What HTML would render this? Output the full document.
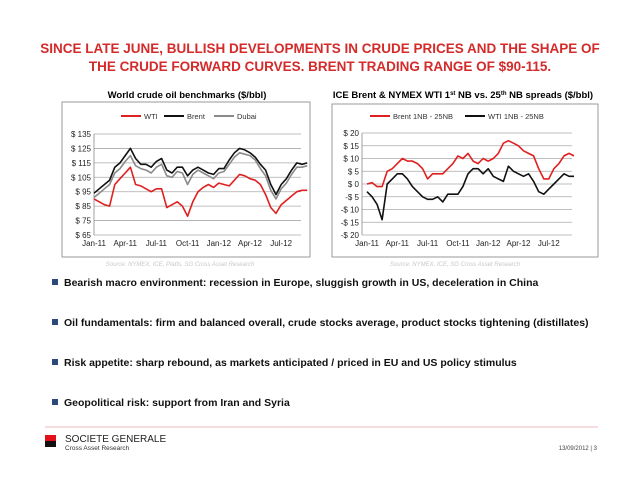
<!DOCTYPE html>
<html><head><meta charset="utf-8"><style>
body{margin:0;width:640px;height:495px;background:#fff;overflow:hidden;font-family:"Liberation Sans",sans-serif}
svg{position:absolute;left:0;top:0}
</style></head><body>
<svg width="640" height="495">
<text x="320" y="53" text-anchor="middle" font-size="13.5" font-weight="bold" fill="#d42a2a">SINCE LATE JUNE, BULLISH DEVELOPMENTS IN CRUDE PRICES AND THE SHAPE OF</text>
<text x="320" y="71" text-anchor="middle" font-size="13.5" font-weight="bold" fill="#d42a2a">THE CRUDE FORWARD CURVES.  BRENT TRADING RANGE OF $90-115.</text>

<text x="187" y="98" text-anchor="middle" font-size="9.5" font-weight="bold">World crude oil benchmarks ($/bbl)</text>
<rect x="62" y="102" width="248" height="155" fill="#fff" stroke="#999"/>
<g id="left"></g>
<text x="180" y="266" text-anchor="middle" font-size="6" font-style="italic" fill="#c8c8c8">Source: NYMEX, ICE, Platts, SG Cross Asset Research</text>

<text x="463" y="98" text-anchor="middle" font-size="9.5" font-weight="bold">ICE Brent &amp; NYMEX WTI 1<tspan font-size="6" dy="-3">st</tspan><tspan dy="3"> NB vs. 25</tspan><tspan font-size="6" dy="-3">th</tspan><tspan dy="3"> NB spreads ($/bbl)</tspan></text>
<rect x="332" y="104" width="266" height="153" fill="#fff" stroke="#999"/>
<g id="right"></g>
<text x="455" y="266" text-anchor="middle" font-size="6" font-style="italic" fill="#c8c8c8">Source: NYMEX, ICE, SG Cross Asset Research</text>

<g font-size="10.5" font-weight="bold" fill="#111">
<rect x="52" y="279" width="6" height="6" fill="#2b4a7a"/>
<text x="64" y="286">Bearish macro environment:  recession in Europe, sluggish growth in US, deceleration in China</text>
<rect x="52" y="319" width="6" height="6" fill="#2b4a7a"/>
<text x="64" y="326">Oil fundamentals:  firm and balanced overall, crude stocks average, product stocks tightening (distillates)</text>
<rect x="52" y="359" width="6" height="6" fill="#2b4a7a"/>
<text x="64" y="366">Risk appetite:  sharp rebound, as markets anticipated / priced in EU and US policy stimulus</text>
<rect x="52" y="399" width="6" height="6" fill="#2b4a7a"/>
<text x="64" y="406">Geopolitical risk:  support from Iran and Syria</text>
</g>

<line x1="45" y1="427" x2="598" y2="427" stroke="#e8a0a0" stroke-width="0.8"/>
<rect x="45" y="435" width="11" height="6" fill="#e3101a"/>
<rect x="45" y="441" width="11" height="6" fill="#111"/>
<text x="65" y="442" font-size="10" fill="#222">SOCIETE GENERALE</text>
<text x="65" y="450" font-size="6.5" fill="#333">Cross Asset Research</text>
<text x="597" y="450" text-anchor="end" font-size="6" fill="#444">13/09/2012  |   3</text>
</svg>
<script>
const NS='http://www.w3.org/2000/svg';
const monthLabels=['Jan-11','Apr-11','Jul-11','Oct-11','Jan-12','Apr-12','Jul-12'];
const monthIdx=[0,3,6,9,12,15,18];
const leftTicks=[65,75,85,95,105,115,125,135];
const rightTicks=[-20,-15,-10,-5,0,5,10,15,20];
// semimonthly values Jan-11 .. Sep-12
const wti=[90,88,86,85,100,104,108,112,100,99,97,95,97,97,84,86,88,85,78,88,95,98,100,98,101,100,99,103,107,106,104,103,100,93,84,80,86,89,92,95,96,96];
const brent=[94,97,100,103,112,115,120,125,118,114,114,112,116,118,110,108,112,112,106,110,112,110,108,107,111,111,117,122,125,124,122,119,114,110,100,93,100,104,110,115,114,115];
const dubai=[91,94,97,100,108,111,116,120,113,111,110,108,112,114,106,105,109,108,100,107,110,108,106,104,108,109,114,119,122,121,120,117,111,106,96,90,97,101,107,112,112,113];
const brentSpread=[0,0.5,-1,-1,5,6,8,10,9,9,8,6,2,4,4,4,6,8,11,10,12,9,8,10,9,10,12,16,17,16,15,13,12,11,6,2,2,6,8,11,12,11];
const wtiSpread=[-3,-5,-8,-14,0,2,4,4,2,-1,-3,-5,-6,-6,-5,-7,-4,-4,-4,-1,4,6,6,4,6,3,2,1,7,5,4,3,4,1,-3,-4,-2,0,2,4,3,3];

function el(p,t,a){const e=document.createElementNS(NS,t);for(const k in a)e.setAttribute(k,a[k]);p.appendChild(e);return e;}

function chart(gid,cfg){
  const g=document.getElementById(gid);
  const y=v=>cfg.y0+(cfg.vmax-v)/(cfg.vmax-cfg.vmin)*(cfg.y1-cfg.y0);
  const xm=m=>cfg.x0+m*cfg.pxm;
  cfg.ticks.forEach(t=>{
    const l=el(g,'line',{x1:cfg.px0,x2:cfg.px1,y1:y(t),y2:y(t),stroke:'#aaa','stroke-width':0.8});
    
    
    const tx=el(g,'text',{x:cfg.px0-3,y:y(t)+3,'text-anchor':'end','font-size':8,fill:'#222'});
    tx.textContent=cfg.fmt(t);
    
    
  });
  el(g,'line',{x1:cfg.px0,x2:cfg.px0,y1:cfg.y0,y2:cfg.y1,stroke:'#888','stroke-width':0.8});
  monthLabels.forEach((m,i)=>{
    const tx=el(g,'text',{x:xm(monthIdx[i]),y:cfg.y1+11,'text-anchor':'middle','font-size':8,fill:'#222'});
    tx.textContent=m;
    
    
  });
  cfg.series.forEach(s=>{
    const pts=s.data.map((v,i)=>xm(i/2).toFixed(1)+','+y(v).toFixed(1)).join(' ');
    const p=el(g,'polyline',{points:pts,fill:'none',stroke:s.color,'stroke-width':1.6,'stroke-linejoin':'round'});
    
    
    const lg=el(g,'line',{x1:s.lx,x2:s.lx+20,y1:116,y2:116,stroke:s.color,'stroke-width':2});
    
    
    const lt=el(g,'text',{x:s.lx+23,y:119,'font-size':7.5,fill:'#333'});
    lt.textContent=s.label;
    
    
  });
}
chart('left',{y0:134,y1:235,vmin:65,vmax:135,ticks:leftTicks,fmt:t=>'$ '+t,px0:94,px1:301,x0:94,pxm:10.4,
  series:[{data:dubai,color:'#8a8a8a',name:'dubai',label:'Dubai',lx:214},{data:brent,color:'#111',name:'brent',label:'Brent',lx:164},{data:wti,color:'#e02020',name:'wti',label:'WTI',lx:121}]});
chart('right',{y0:133,y1:235,vmin:-20,vmax:20,ticks:rightTicks,fmt:t=>(t<0?'-$ '+(-t):'$ '+t),px0:362,px1:572,x0:367,pxm:10.1,
  series:[{data:brentSpread,color:'#e02020',name:'brent-spread',label:'Brent 1NB - 25NB',lx:370},{data:wtiSpread,color:'#111',name:'wti-spread',label:'WTI 1NB - 25NB',lx:465}]});
</script>
</body></html>
